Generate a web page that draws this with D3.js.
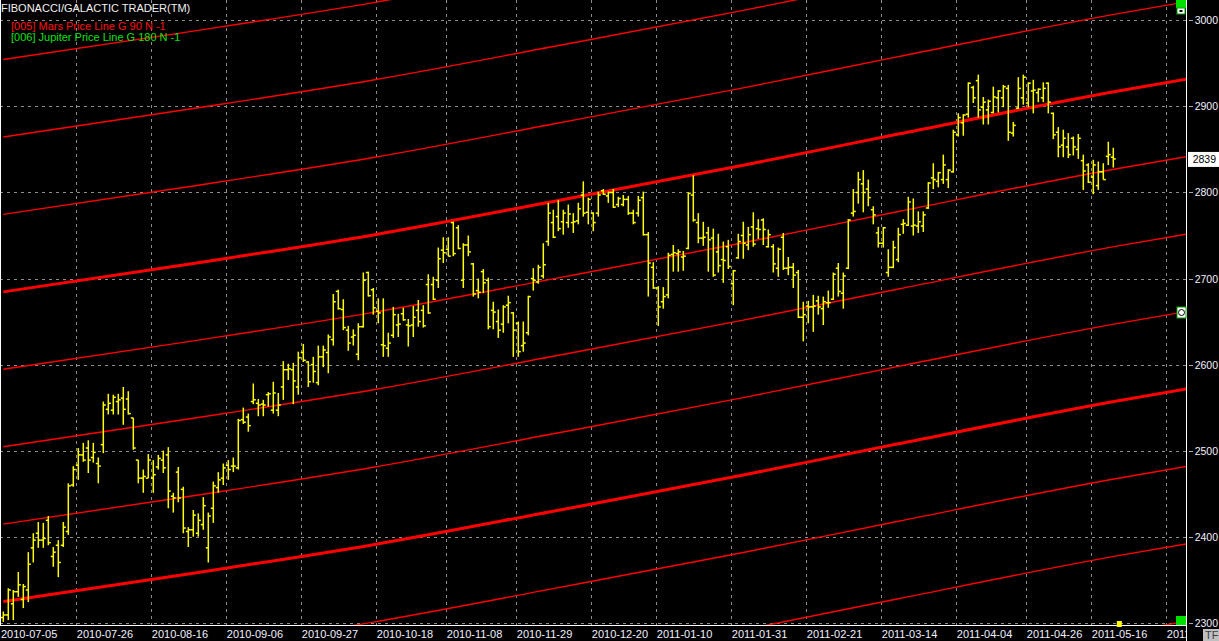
<!DOCTYPE html>
<html>
<head>
<meta charset="utf-8">
<script src="https://cdn.jsdelivr.net/npm/d3@7"></script>
<style>
  body { margin: 0; background: #000; }
  svg { display: block; }
  text { font-family: "Liberation Sans", Arial, sans-serif; font-size: 11px; }
</style>
</head>
<body>
<svg id="chart" width="1219" height="641"></svg>
<script>
// daily bars, index 0 = 2010-07-05
const opens = [2306,2309,2322,2336,2327,2338,2387,2404,2396,2419,2377,2390,2390,2406,2460,2483,2495,2503,2492,2485,
  2507,2548,2547,2557,2561,2560,2538,2489,2468,2468,2468,2481,2489,2495,2447,2475,2455,2406,2408,2404,
  2414,2387,2433,2457,2468,2483,2482,2480,2536,2539,2557,2555,2554,2565,2547,2547,2574,2594,2594,2574,
  2614,2603,2600,2579,2609,2614,2629,2685,2664,2640,2632,2612,2644,2707,2687,2662,2623,2619,2634,2646,
  2659,2646,2646,2663,2663,2693,2693,2698,2733,2734,2765,2759,2698,2739,2717,2686,2708,2698,2663,2650,
  2647,2669,2660,2648,2622,2637,2700,2696,2703,2743,2765,2772,2766,2765,2765,2767,2797,2777,2776,2776,
  2802,2796,2800,2786,2786,2792,2776,2776,2794,2751,2713,2689,2673,2681,2728,2729,2725,2735,2797,2765,
  2747,2753,2747,2731,2722,2737,2694,2724,2750,2739,2760,2758,2768,2737,2737,2712,2748,2712,2713,2707,
  2655,2668,2667,2674,2665,2672,2676,2712,2683,2712,2776,2800,2810,2804,2780,2753,2741,2707,2713,2722,
  2763,2762,2761,2761,2761,2782,2817,2813,2815,2815,2824,2867,2881,2891,2922,2930,2899,2896,2893,2910,
  2910,2921,2869,2898,2910,2904,2918,2916,2910,2927,2892,2870,2855,2853,2863,2850,2837,2832,2818,2808,
  2824,2842,2841];
const highs = [2313,2340,2338,2359,2345,2382,2404,2417,2416,2424,2388,2396,2417,2462,2482,2503,2509,2512,2509,2492,
  2557,2566,2565,2566,2574,2569,2538,2489,2478,2496,2489,2495,2500,2504,2451,2481,2458,2411,2431,2427,
  2446,2428,2464,2475,2485,2489,2492,2537,2550,2543,2578,2560,2559,2568,2580,2567,2604,2601,2602,2615,
  2624,2604,2609,2622,2622,2635,2682,2687,2676,2645,2641,2648,2707,2708,2689,2677,2677,2637,2667,2659,
  2666,2653,2668,2675,2669,2705,2702,2736,2748,2748,2766,2762,2741,2750,2718,2700,2711,2701,2673,2664,
  2669,2680,2661,2650,2650,2680,2712,2716,2741,2788,2780,2791,2780,2786,2776,2788,2813,2794,2777,2801,
  2804,2801,2804,2795,2797,2796,2780,2796,2801,2754,2719,2691,2690,2730,2739,2734,2732,2800,2820,2776,
  2766,2760,2758,2752,2743,2745,2710,2752,2766,2760,2777,2769,2770,2757,2740,2736,2753,2725,2718,2710,
  2673,2674,2681,2680,2679,2686,2707,2718,2707,2769,2804,2824,2826,2815,2784,2760,2760,2734,2744,2759,
  2769,2795,2793,2778,2778,2812,2834,2824,2844,2827,2873,2892,2891,2928,2924,2937,2911,2908,2923,2919,
  2925,2925,2882,2934,2937,2928,2931,2921,2928,2928,2893,2876,2873,2869,2865,2868,2844,2834,2838,2836,
  2834,2859,2852];
const lows = [2301,2303,2303,2330,2317,2324,2370,2387,2387,2390,2365,2353,2388,2402,2458,2466,2487,2474,2486,2462,
  2497,2542,2542,2542,2530,2542,2501,2462,2451,2468,2451,2478,2474,2433,2428,2440,2404,2388,2400,2400,
  2408,2370,2416,2451,2460,2466,2475,2478,2531,2522,2554,2540,2540,2551,2543,2540,2559,2582,2554,2565,
  2603,2574,2579,2576,2597,2590,2622,2664,2640,2616,2622,2605,2643,2679,2658,2648,2609,2609,2631,2632,
  2651,2621,2632,2644,2643,2659,2675,2689,2718,2726,2726,2734,2689,2726,2679,2677,2683,2641,2641,2631,
  2637,2648,2609,2609,2615,2634,2686,2694,2700,2738,2747,2755,2751,2759,2753,2763,2772,2763,2755,2772,
  2797,2788,2782,2783,2784,2774,2763,2772,2750,2679,2688,2645,2665,2677,2708,2708,2709,2734,2766,2741,
  2738,2708,2702,2707,2695,2711,2669,2723,2723,2733,2737,2746,2739,2736,2707,2702,2710,2704,2689,2654,
  2627,2648,2638,2658,2646,2666,2675,2679,2665,2711,2772,2787,2777,2784,2763,2736,2736,2702,2712,2719,
  2752,2761,2750,2753,2754,2781,2804,2806,2810,2805,2823,2865,2866,2887,2904,2887,2879,2879,2892,2893,
  2899,2860,2865,2897,2902,2899,2892,2905,2905,2892,2862,2841,2841,2840,2843,2839,2803,2811,2798,2803,
  2815,2832,2829];
const closes = [2309,2338,2336,2344,2342,2368,2396,2396,2398,2393,2382,2370,2411,2459,2478,2495,2489,2489,2498,2482,
  2553,2555,2562,2559,2548,2543,2503,2468,2470,2489,2472,2491,2480,2453,2445,2445,2410,2408,2425,2419,
  2436,2424,2459,2466,2480,2478,2482,2535,2533,2529,2559,2553,2553,2566,2567,2553,2594,2595,2581,2608,
  2605,2580,2592,2609,2617,2632,2673,2665,2643,2625,2634,2644,2698,2680,2666,2660,2622,2625,2658,2647,
  2652,2645,2655,2650,2645,2660,2676,2723,2730,2726,2729,2735,2739,2731,2682,2684,2695,2644,2661,2640,
  2667,2672,2640,2615,2625,2679,2698,2713,2716,2776,2748,2758,2776,2775,2766,2781,2776,2792,2765,2797,
  2798,2800,2783,2793,2792,2776,2765,2791,2751,2718,2689,2667,2679,2727,2730,2731,2726,2799,2768,2747,
  2748,2745,2704,2715,2721,2714,2709,2743,2741,2751,2740,2757,2757,2751,2717,2734,2712,2713,2704,2655,
  2658,2667,2668,2667,2673,2672,2705,2685,2703,2768,2778,2815,2800,2794,2774,2741,2759,2713,2736,2751,
  2764,2789,2762,2766,2774,2811,2815,2823,2832,2826,2870,2887,2890,2927,2910,2896,2905,2906,2911,2918,
  2923,2870,2878,2921,2934,2927,2919,2920,2921,2905,2867,2853,2863,2844,2853,2863,2825,2812,2832,2824,
  2815,2844,2839];

// date ticks on the bottom axis, with the bar they fall on
const tickLabels = ['2010-07-05','2010-07-26','2010-08-16','2010-09-06','2010-09-27','2010-10-18','2010-11-08',
  '2010-11-29','2010-12-20','2011-01-10','2011-01-31','2011-02-21','2011-03-14','2011-04-04','2011-04-26',
  '2011-05-16','2011-06-06'];
const tickBars = [0,15,30,45,60,75,89,103,118,131,146,161,176,191,205,218,233];

const priceTicks = [2300,2400,2500,2600,2700,2800,2900,3000];

// Mars price line (G 90): main line read at a few bars, the others are 90 points apart
const marsBars = [0,36,74,110,148,179,223,237];
const marsBase = [2684.5,2715.8,2750.7,2789.6,2831.6,2867.9,2917.9,2932];
const marsSteps = [-8,-7,-6,-5,-4,-3,-2,-1,0,1,2,3,4];
const marsGap = 90;

const lastClose = 2839;

const W = 1219, H = 641;
const plotRight = 1186, plotBottom = 625;

const svg = d3.select('#chart');
svg.append('rect').attr('width', W).attr('height', H).attr('fill', '#000');

const x = d3.scaleLinear().domain([0, 1]).range([3.3, 8.3]);
const y = d3.scaleLinear().domain([2300, 3000]).range([622.7, 20.4]);

svg.append('clipPath').attr('id', 'plotclip')
  .append('rect').attr('x', 0).attr('y', 0).attr('width', plotRight).attr('height', plotBottom);

const plot = svg.append('g').attr('clip-path', 'url(#plotclip)');

// dashed grid
plot.selectAll('.hgrid')
  .data(priceTicks)
  .enter()
  .append('line')
  .attr('x1', 0).attr('x2', plotRight)
  .attr('y1', d => Math.round(y(d)) + 0.5).attr('y2', d => Math.round(y(d)) + 0.5)
  .attr('stroke', '#8c8c8c').attr('stroke-dasharray', '3,4');

plot.selectAll('.vgrid')
  .data(tickBars.slice(1))
  .enter()
  .append('line')
  .attr('x1', d => Math.round(x(d) - 2.5) + 0.5).attr('x2', d => Math.round(x(d) - 2.5) + 0.5)
  .attr('y1', 0).attr('y2', plotBottom)
  .attr('stroke', '#8c8c8c').attr('stroke-dasharray', '3,4');

// Mars price lines
const marsPoints = marsBars.map((b, i) => ({ bar: b, value: marsBase[i] }));
marsSteps.forEach(step => {
  const line = d3.line()
    .x(d => x(d.bar))
    .y(d => y(d.value + step * marsGap))
    .curve(d3.curveMonotoneX);
  plot.append('path')
    .datum(marsPoints)
    .attr('d', line)
    .attr('fill', 'none')
    .attr('stroke', '#ff0000')
    .attr('stroke-width', step % 4 === 0 ? 3 : 1.4);
});

// OHLC bars
const bars = opens.map((o, i) => ({ i: i, o: o, h: highs[i], l: lows[i], c: closes[i] }));
const barG = plot.selectAll('.bar')
  .data(bars)
  .enter()
  .append('g')
  .attr('stroke', '#ffff00')
  .attr('stroke-width', 1.5);

barG.append('line')
  .attr('x1', d => x(d.i)).attr('x2', d => x(d.i))
  .attr('y1', d => y(d.h)).attr('y2', d => y(d.l));
barG.append('line')
  .attr('x1', d => x(d.i) - 2.5).attr('x2', d => x(d.i))
  .attr('y1', d => y(d.o)).attr('y2', d => y(d.o));
barG.append('line')
  .attr('x1', d => x(d.i)).attr('x2', d => x(d.i) + 2.5)
  .attr('y1', d => y(d.c)).attr('y2', d => y(d.c));

// frame
svg.append('line').attr('x1', 0.5).attr('x2', 0.5).attr('y1', 0).attr('y2', plotBottom)
  .attr('stroke', '#fff');
svg.append('line').attr('x1', plotRight + 0.5).attr('x2', plotRight + 0.5).attr('y1', 0).attr('y2', H)
  .attr('stroke', '#fff');
svg.append('line').attr('x1', 0).attr('x2', plotRight).attr('y1', plotBottom + 0.5).attr('y2', plotBottom + 0.5)
  .attr('stroke', '#fff');

// right price axis
const yAxis = svg.append('g');
yAxis.selectAll('.ptick')
  .data(priceTicks)
  .enter()
  .append('line')
  .attr('x1', plotRight + 3).attr('x2', plotRight + 7)
  .attr('y1', d => Math.round(y(d)) + 0.5).attr('y2', d => Math.round(y(d)) + 0.5)
  .attr('stroke', '#aaa');
yAxis.selectAll('.plabel')
  .data(priceTicks)
  .enter()
  .append('text')
  .attr('x', 1218)
  .attr('y', d => y(d) + 4)
  .attr('text-anchor', 'end')
  .style('font-size', '10.5px')
  .attr('fill', '#f0f0ff')
  .text(d => d);

// last close marker
svg.append('rect')
  .attr('x', 1188).attr('y', y(lastClose) - 7)
  .attr('width', 31).attr('height', 15)
  .attr('fill', '#fff');
svg.append('text')
  .attr('x', 1216).attr('y', y(lastClose) + 4)
  .attr('text-anchor', 'end')
  .style('font-size', '10.5px')
  .attr('fill', '#000')
  .text(lastClose);

// bottom date axis
const xAxis = svg.append('g');
xAxis.append('clipPath').attr('id', 'xclip')
  .append('rect').attr('x', 0).attr('y', plotBottom).attr('width', plotRight).attr('height', H - plotBottom);
xAxis.append('g').attr('clip-path', 'url(#xclip)')
  .selectAll('text')
  .data(tickLabels)
  .enter()
  .append('text')
  .attr('x', (d, i) => i === 0 ? 1 : x(tickBars[i]) - 1.5)
  .attr('y', 638)
  .attr('fill', '#f0f0ff')
  .text(d => d);

// small widgets of the trading window
svg.append('rect').attr('x', 1176).attr('y', 0).attr('width', 10).attr('height', 8).attr('fill', '#00e000');
svg.append('rect').attr('x', 1177).attr('y', 8).attr('width', 8).attr('height', 6)
  .attr('fill', '#fff').attr('stroke', '#00a000');
svg.append('rect').attr('x', 1179.5).attr('y', 10).attr('width', 3).attr('height', 2).attr('fill', '#000');
svg.append('rect').attr('x', 1176).attr('y', 616).attr('width', 10).attr('height', 9).attr('fill', '#00e000');
svg.append('rect').attr('x', 1177).attr('y', 307).attr('width', 9).attr('height', 11)
  .attr('fill', '#fff').attr('stroke', '#00a000');
svg.append('circle').attr('cx', 1181.5).attr('cy', 312.5).attr('r', 3)
  .attr('fill', 'none').attr('stroke', '#000');
svg.append('rect').attr('x', x(bars.length) - 1.5).attr('y', 621).attr('width', 5).attr('height', 6)
  .attr('fill', '#ffff00');
svg.append('rect').attr('x', 1203).attr('y', 629).attr('width', 16).attr('height', 12).attr('fill', '#c0c0c0');
svg.append('text').attr('x', 1205).attr('y', 639).attr('fill', '#404040').style('font-size', '11px').text('TF');

// title and legend
svg.append('text').attr('x', 1).attr('y', 12).attr('fill', '#f0f0f0')
  .text('FIBONACCI/GALACTIC TRADER(TM)');
svg.append('text').attr('x', 11).attr('y', 30).attr('fill', '#ff1010')
  .text('[005] Mars Price Line G 90 N -1');
svg.append('text').attr('x', 11).attr('y', 41).attr('fill', '#10e010')
  .text('[006] Jupiter Price Line G 180 N -1');
</script>
</body>
</html>
